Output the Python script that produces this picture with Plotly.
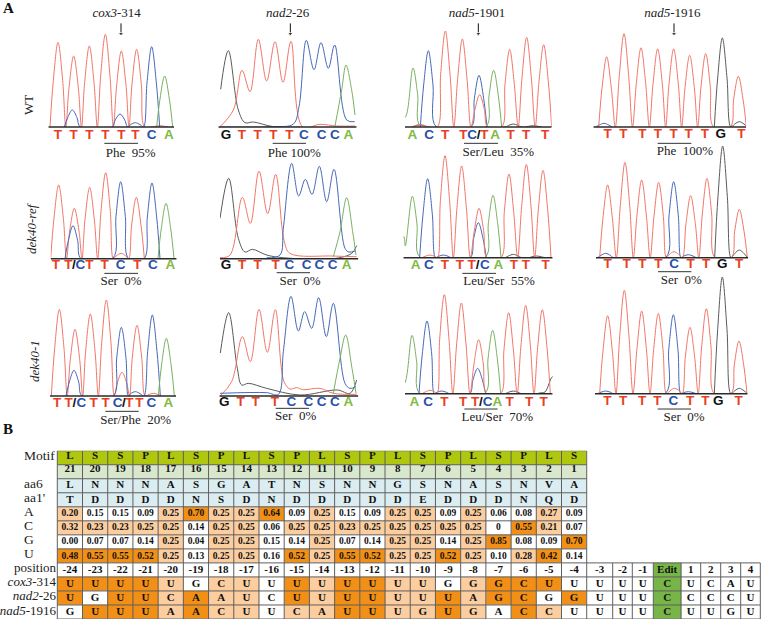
import plotly.graph_objects as go

# ---------- chromatogram signal, read per base call: (scan position, signal) ----------
COX3_WT_T = [(174, 254), (221, 213), (268, 243), (316, 278), (364, 228), (410, 233), (480, 4)]
COX3_WT_C = [(217, 51), (360, 39), (406, 13), (455, 241)]
COX3_WT_A = [(494, 153)]
COX3_REF_T = [(176, 221), (223, 151), (269, 214), (317, 258), (363, 16), (409, 184)]
COX3_REF_C = [(219, 99), (362, 231), (456, 227)]
COX3_REF_A = [(498, 166)]
COX3_MUT_T = [(178, 260), (225, 200), (271, 246), (319, 288), (366, 71), (411, 212), (460, 8)]
COX3_MUT_C = [(222, 77), (364, 206), (406, 13), (457, 243)]
COX3_MUT_A = [(499, 173)]

NAD2_WT_G = [(662, 113), (685, 229), (715, 51), (735, 13), (760, 15), (820, 1), (900, 0)]
NAD2_WT_T = [(660, 1), (700, 51), (726, 170), (750, 106), (775, 263), (800, 138), (825, 256), (849, 134), (873, 257), (908, 0), (960, 8), (1010, 3), (1065, 3)]
NAD2_WT_C = [(660, 0), (820, 1), (880, 9), (897, 61), (919, 260), (942, 172), (963, 253), (985, 176), (1004, 246), (1040, 21), (1064, 16)]
NAD2_WT_A = [(1005, 3), (1025, 111), (1038, 186), (1055, 111), (1065, 36)]
NAD2_REF_G = [(660, 121), (686, 241), (715, 61), (735, 20), (757, 28), (800, 11), (850, 3), (1000, 0), (1055, 16), (1070, 39)]
NAD2_REF_T = [(660, 3), (690, 11), (727, 184), (751, 106), (777, 263), (803, 135), (827, 253), (853, 51), (870, 16), (1000, 8), (1070, 6)]
NAD2_REF_C = [(800, 3), (840, 11), (850, 91), (875, 286), (896, 188), (916, 238), (936, 193), (958, 277), (980, 171), (1002, 268), (1035, 31), (1047, 20), (1065, 23)]
NAD2_REF_A = [(1000, 6), (1020, 81), (1040, 183), (1058, 81), (1068, 11)]
NAD2_MUT_G = [(661, 129), (686, 250), (712, 83), (725, 33), (745, 38), (800, 23), (900, 3), (1012, 18), (1050, 8), (1070, 48)]
NAD2_MUT_T = [(660, 0), (695, 43), (727, 178), (751, 103), (777, 260), (802, 131), (826, 259), (852, 43), (870, 21), (890, 25), (910, 19), (960, 23), (1000, 8), (1070, 5)]
NAD2_MUT_C = [(660, 8), (800, 10), (835, 5), (850, 133), (873, 299), (895, 195), (914, 253), (935, 203), (956, 295), (979, 178), (1000, 278), (1035, 38), (1050, 23), (1068, 28)]
NAD2_MUT_A = [(1000, 8), (1020, 113), (1037, 183), (1056, 83), (1068, 8)]

N1901_WT_T = [(120, 8), (196, 288), (247, 264), (299, 97), (389, 233), (440, 269), (491, 247)]
N1901_WT_C = [(145, 229), (297, 155)]
N1901_WT_A = [(78, 33), (99, 177), (341, 170)]
N1901_WT_G = [(120, 6), (400, 9), (460, 4)]
N1901_REF_T = [(150, 8), (195, 306), (245, 275), (297, 148), (387, 251), (439, 280), (489, 262)]
N1901_REF_C = [(143, 237), (190, 8), (295, 105)]
N1901_REF_A = [(72, 63), (76, 35), (97, 184), (339, 187)]
N1901_REF_G = [(400, 10), (470, 5)]
N1901_MUT_T = [(150, 10), (193, 297), (244, 272), (296, 162), (386, 243), (437, 265), (487, 252)]
N1901_MUT_C = [(141, 218), (185, 8), (293, 76)]
N1901_MUT_A = [(75, 33), (96, 175), (338, 190)]
N1901_MUT_G = [(400, 8), (495, 5), (518, 51)]

N1916_WT_T = [(680, 211), (732, 280), (783, 238), (833, 234), (881, 234), (929, 215), (977, 220), (1075, 152)]
N1916_WT_C = [(672, 11)]
N1916_WT_G = [(1027, 267), (1078, 16)]
N1916_REF_T = [(683, 218), (735, 286), (785, 233), (836, 226), (882, 18), (932, 186), (981, 238), (1078, 145)]
N1916_REF_C = [(677, 13), (881, 228), (925, 9)]
N1916_REF_G = [(1028, 335), (1078, 23)]
N1916_MUT_T = [(683, 234), (733, 310), (785, 248), (835, 241), (884, 16), (930, 199), (979, 255), (1077, 158)]
N1916_MUT_C = [(677, 8), (880, 237), (925, 6)]
N1916_MUT_G = [(1027, 350), (1078, 16)]

# ---------- base calls and captions ----------
COX3_WT_CALLS = "TTTTTTCA"
COX3_WT_CALL_X = [174, 221, 268, 316, 364, 406, 455, 507]
COX3_REF_CALLS = "TT/CTTCTCA"
COX3_REF_CALL_X = [168, 205, 222, 241, 268, 314, 362, 412, 459, 511]
COX3_MUT_CALLS = "TT/CTTC/TTCA"
COX3_MUT_CALL_X = [171, 206, 223, 244, 281, 317, 353, 372, 388, 418, 454, 505]
NAD2_WT_CALLS = "GTTTTCCCA"
NAD2_WT_CALL_X = [678, 726, 773, 820, 868, 912, 965, 1005, 1045]
NAD2_REF_CALLS = "GTTTCCCCA"
NAD2_REF_CALL_X = [678, 726, 773, 827, 868, 920, 958, 998, 1040]
NAD2_MUT_CALLS = "GTTTCCCCA"
NAD2_MUT_CALL_X = [673, 722, 767, 825, 874, 925, 965, 1005, 1045]
N1901_WT_CALLS = "ACTTC/TATTT"
N1901_WT_CALL_X = [97, 147, 195, 250, 276, 296, 313, 345, 392, 438, 495]
N1901_REF_CALLS = "ACTTT/CATTT"
N1901_REF_CALL_X = [107, 147, 195, 240, 275, 293, 315, 355, 402, 438, 497]
N1901_MUT_CALLS = "ACTTT/CATTT"
N1901_MUT_CALL_X = [103, 144, 193, 249, 285, 303, 323, 352, 389, 447, 491]
N1916_WT_CALLS = "TTTTTTTGT"
N1916_WT_CALL_X = [683, 730, 787, 834, 881, 926, 975, 1022, 1084]
N1916_REF_CALLS = "TTTTCTTGT"
N1916_REF_CALL_X = [683, 740, 787, 835, 882, 932, 978, 1027, 1077]
N1916_MUT_CALLS = "TTTTCTTGT"
N1916_MUT_CALL_X = [682, 729, 786, 832, 880, 930, 976, 1015, 1076]

GENE_TITLES = ["<i>cox3</i>-314", "<i>nad2</i>-26", "<i>nad5</i>-1901", "<i>nad5</i>-1916"]
GENOTYPES = ["WT", "<i>dek40-ref</i>", "<i>dek40-1</i>"]
CAPTIONS = [
    ["Phe  95%", "Phe 100%", "Ser/Leu  35%", "Phe  100%"],
    ["Ser  0%", "Ser  0%", "Leu/Ser  55%", "Ser  0%"],
    ["Ser/Phe  20%", "Ser  0%", "Leu/Ser  70%", "Ser  0%"],
]

# ---------- PPR table ----------
MOTIF = list("LSSPLSPLSPLSPLSPLSPLS")
MOTIF_NUM = [str(n) for n in range(21, 0, -1)]
AA6 = list("LNNNASGATNSNNGSNASNVA")
AA1 = list("TDDDDNSDNDDDDDEDDDNQD")
PWM_A = "0.20 0.15 0.15 0.09 0.25 0.70 0.25 0.25 0.64 0.09 0.25 0.15 0.09 0.25 0.25 0.09 0.25 0.06 0.08 0.27 0.09".split()
PWM_C = "0.32 0.23 0.23 0.25 0.25 0.14 0.25 0.25 0.06 0.25 0.25 0.23 0.25 0.25 0.25 0.25 0.25 0 0.55 0.21 0.07".split()
PWM_G = "0.00 0.07 0.07 0.14 0.25 0.04 0.25 0.25 0.15 0.14 0.25 0.07 0.14 0.25 0.25 0.14 0.25 0.85 0.08 0.09 0.70".split()
PWM_U = "0.48 0.55 0.55 0.52 0.25 0.13 0.25 0.25 0.16 0.52 0.25 0.55 0.52 0.25 0.25 0.52 0.25 0.10 0.28 0.42 0.14".split()
POSITIONS = [str(n) for n in range(-24, 0)] + ["Edit", "1", "2", "3", "4"]
SEQ_COX3 = list("UUUUUGCUUUUUUUUGGGCUUUUUCUCAU")
SEQ_NAD2 = list("UGUUCAAUCUUUUUUUAGCGGUUUCCCCU")
SEQ_NAD5 = list("GUUUAACUUCAUUUGUGACCUUUUCUUGU")
ROW_NAMES = ["Motif", "", "aa6", "aa1'", "A", "C", "G", "U", "position",
             "<i>cox3</i>-314", "<i>nad2</i>-26", "<i>nad5</i>-1916"]

# ---------- styles and layout ----------
W, H = 764, 621
SERIF = "Liberation Serif"
SANS = "Liberation Sans"
CURVE = {"T": "#f0766a", "C": "#4668b8", "A": "#78b060", "G": "#5a5a5a"}
CALL = {"T": "#e8401f", "C": "#2a50a8", "A": "#80bb3f", "G": "#111111", "/": "#111111"}
PEAK_HALF = 24
SHOULDER = 14

PANELS = [
    dict(r=0, c=0, ox=0, base=127, x0=145, x1=522, calls=(COX3_WT_CALLS, COX3_WT_CALL_X), cy=27, ul=(313, 414), uly=49, cap=392, capy=80, arrow=363, tx=350,
         ch=[("T", COX3_WT_T, 1), ("C", COX3_WT_C, 1), ("A", COX3_WT_A, 1)]),
    dict(r=0, c=1, ox=0, base=127, x0=655, x1=1070, calls=(NAD2_WT_CALLS, NAD2_WT_CALL_X), cy=27, ul=(818, 918), uly=49, cap=883, capy=81, arrow=871, tx=863,
         ch=[("G", NAD2_WT_G, 0), ("T", NAD2_WT_T, 0), ("C", NAD2_WT_C, 0), ("A", NAD2_WT_A, 0)]),
    dict(r=0, c=2, ox=380, base=127, x0=75, x1=515, calls=(N1901_WT_CALLS, N1901_WT_CALL_X), cy=27, ul=(252, 354), uly=49, cap=355, capy=77, arrow=295, tx=291,
         ch=[("G", N1901_WT_G, 1), ("A", N1901_WT_A, 1), ("C", N1901_WT_C, 1), ("T", N1901_WT_T, 1)]),
    dict(r=0, c=3, ox=380, base=127, x0=640, x1=1098, calls=(N1916_WT_CALLS, N1916_WT_CALL_X), cy=23, ul=(833, 934), uly=49, cap=915, capy=75, arrow=882, tx=877,
         ch=[("C", N1916_WT_C, 1), ("G", N1916_WT_G, 1), ("T", N1916_WT_T, 1)]),
    dict(r=1, c=0, ox=0, base=258.7, x0=152, x1=530, calls=(COX3_REF_CALLS, COX3_REF_CALL_X), cy=22, ul=(313, 414), uly=44, cap=363, capy=70,
         ch=[("T", COX3_REF_T, 1), ("C", COX3_REF_C, 1), ("A", COX3_REF_A, 1)]),
    dict(r=1, c=1, ox=0, base=258.7, x0=660, x1=1075, calls=(NAD2_REF_CALLS, NAD2_REF_CALL_X), cy=22, ul=(830, 930), uly=42, cap=900, capy=70,
         ch=[("G", NAD2_REF_G, 0), ("T", NAD2_REF_T, 0), ("C", NAD2_REF_C, 0), ("A", NAD2_REF_A, 0)]),
    dict(r=1, c=2, ox=380, base=257.7, x0=70, x1=518, calls=(N1901_REF_CALLS, N1901_REF_CALL_X), cy=25, ul=(247, 348), uly=47, cap=357, capy=72,
         ch=[("G", N1901_REF_G, 1), ("A", N1901_REF_A, 1), ("C", N1901_REF_C, 1), ("T", N1901_REF_T, 1)]),
    dict(r=1, c=3, ox=380, base=257.7, x0=648, x1=1105, calls=(N1916_REF_CALLS, N1916_REF_CALL_X), cy=20, ul=(834, 934), uly=42, cap=904, capy=69,
         ch=[("C", N1916_REF_C, 1), ("G", N1916_REF_G, 1), ("T", N1916_REF_T, 1)]),
    dict(r=2, c=0, ox=0, base=396, x0=150, x1=528, calls=(COX3_MUT_CALLS, COX3_MUT_CALL_X), cy=24, ul=(316, 416), uly=46, cap=407, capy=73,
         ch=[("T", COX3_MUT_T, 1), ("C", COX3_MUT_C, 1), ("A", COX3_MUT_A, 1)]),
    dict(r=2, c=1, ox=0, base=396, x0=658, x1=1075, calls=(NAD2_MUT_CALLS, NAD2_MUT_CALL_X), cy=20, ul=(827, 927), uly=37, cap=887, capy=63,
         ch=[("G", NAD2_MUT_G, 0), ("T", NAD2_MUT_T, 0), ("C", NAD2_MUT_C, 0), ("A", NAD2_MUT_A, 0)]),
    dict(r=2, c=2, ox=380, base=393.7, x0=75, x1=518, calls=(N1901_MUT_CALLS, N1901_MUT_CALL_X), cy=26, ul=(253, 353), uly=46, cap=352, capy=72,
         ch=[("G", N1901_MUT_G, 1), ("A", N1901_MUT_A, 1), ("C", N1901_MUT_C, 1), ("T", N1901_MUT_T, 1)]),
    dict(r=2, c=3, ox=380, base=393.7, x0=645, x1=1103, calls=(N1916_MUT_CALLS, N1916_MUT_CALL_X), cy=23, ul=(833, 933), uly=46, cap=912, capy=71,
         ch=[("C", N1916_MUT_C, 1), ("G", N1916_MUT_G, 1), ("T", N1916_MUT_T, 1)]),
]


def with_valleys(peaks):
    """Put shoulders and the return to baseline round the read peaks of one dye channel."""
    xs, ys = [], []
    for i, (x, y) in enumerate(peaks):
        prev_gap = x - peaks[i - 1][0] if i else 999
        next_gap = peaks[i + 1][0] - x if i + 1 < len(peaks) else 999
        if prev_gap >= 30:
            if i == 0:
                xs.append(x - PEAK_HALF); ys.append(0)
            xs.append(x - SHOULDER); ys.append(y * 0.55)
        xs.append(x); ys.append(y)
        if next_gap < 30:
            continue
        xs.append(x + SHOULDER); ys.append(y * 0.55)
        if i + 1 == len(peaks):
            xs.append(x + PEAK_HALF); ys.append(0)
        elif next_gap <= 2 * PEAK_HALF + 8:
            xs.append(x + next_gap / 2); ys.append(0)
        else:
            xs += [x + PEAK_HALF, x + next_gap - PEAK_HALF]; ys += [0, 0]
    return xs, ys


fig = go.Figure()
layout_axes = {}
Y_TOP = 360
Y_LOW = -100   # label axis reaches below the baseline for calls and captions
NP = len(PANELS)

for n, p in enumerate(PANELS, start=1):
    sx = "" if n == 1 else str(n)
    lab = str(n + NP + 1)
    layout_axes[f"xaxis{sx}"] = dict(domain=[(p["ox"] + p["x0"] / 3) / W, (p["ox"] + p["x1"] / 3) / W],
                                     range=[p["x0"], p["x1"]], visible=False, fixedrange=True, anchor=f"y{sx}")
    layout_axes[f"yaxis{sx}"] = dict(domain=[(H - p["base"]) / H, (H - p["base"] + Y_TOP / 3) / H],
                                     range=[0, Y_TOP], visible=False, fixedrange=True, anchor=f"x{sx}")
    layout_axes[f"yaxis{lab}"] = dict(domain=[(H - p["base"] + Y_LOW / 3) / H, (H - p["base"] + Y_TOP / 3) / H],
                                      range=[Y_LOW, Y_TOP], visible=False, fixedrange=True, anchor=f"x{sx}")
    ax = dict(xaxis=f"x{sx}", yaxis=f"y{sx}")
    lax = dict(xaxis=f"x{sx}", yaxis=f"y{lab}")
    # dye channels
    for dye, pts, is_peaks in p["ch"]:
        xs, ys = with_valleys(pts) if is_peaks else ([a for a, _ in pts], [b for _, b in pts])
        fig.add_trace(go.Scatter(x=xs, y=ys, mode="lines", line=dict(color=CURVE[dye], width=1, shape="spline", smoothing=1.0),
                                 hoverinfo="skip", **ax))
    # baseline
    fig.add_trace(go.Scatter(x=[p["x0"], p["x1"]], y=[0, 0], mode="lines", line=dict(color="#2a2a2a", width=1.6),
                             cliponaxis=False, hoverinfo="skip", **lax))
    # base calls
    letters, call_x = p["calls"]
    fig.add_trace(go.Scatter(x=call_x, y=[-p["cy"]] * len(call_x), mode="text", text=list(letters),
                             textfont=dict(family=SANS, size=13.5, color=[CALL[c] for c in letters], weight="bold"),
                             textposition="middle center", cliponaxis=False, hoverinfo="skip", **lax))
    # underline and caption
    fig.add_trace(go.Scatter(x=list(p["ul"]), y=[-p["uly"]] * 2, mode="lines", line=dict(color="#333333", width=1),
                             cliponaxis=False, hoverinfo="skip", **lax))
    fig.add_trace(go.Scatter(x=[p["cap"]], y=[-p["capy"]], mode="text", text=[CAPTIONS[p["r"]][p["c"]]],
                             textfont=dict(family=SERIF, size=13, color="#222222"),
                             textposition="middle center", cliponaxis=False, hoverinfo="skip", **lax))
    # gene title and arrow on the top row
    if p["r"] == 0:
        fig.add_trace(go.Scatter(x=[p["tx"]], y=[341], mode="text", text=[GENE_TITLES[p["c"]]],
                                 textfont=dict(family=SERIF, size=13, color="#222222"),
                                 textposition="middle center", cliponaxis=False, hoverinfo="skip", **lax))
        fig.add_trace(go.Scatter(x=[p["arrow"], p["arrow"]], y=[311, 280], mode="lines+markers",
                                 line=dict(color="#111111", width=1),
                                 marker=dict(symbol=["line-ew", "triangle-down"], size=[0.1, 5], color="#111111"),
                                 cliponaxis=False, hoverinfo="skip", **lax))

# ---------- table ----------
t = NP + 1
TABLE_TOP, TABLE_BOTTOM = 450.7, 619
layout_axes[f"xaxis{t}"] = dict(domain=[0, 1], range=[0, W], visible=False, fixedrange=True, anchor=f"y{t}")
layout_axes[f"yaxis{t}"] = dict(domain=[(H - TABLE_BOTTOM) / H, (H - TABLE_TOP) / H], range=[12, 0],
                                visible=False, fixedrange=True, anchor=f"x{t}")
tax = dict(xaxis=f"x{t}", yaxis=f"y{t}")

col_edges = [57.3 + 25.21 * i for i in range(22)] + [612.7, 632.3, 653.3, 681, 700.7, 720.7, 740.7, 760.3]
col_mid = [(a + b) / 2 for a, b in zip(col_edges, col_edges[1:])]
NCOL = len(POSITIONS)
NTOP = len(MOTIF)
PWM = {"A": PWM_A, "C": PWM_C, "G": PWM_G, "U": PWM_U}


def strength(v):
    v = float(v)
    return 2 if v >= 0.4 else (1 if v >= 0.2 else 0)


def top_row(code):
    return [code] * NTOP + [None] * (NCOL - NTOP)


def seq_row(seq):
    out = [strength(PWM[b][i]) if i < NTOP else 0 for i, b in enumerate(seq)]
    out[POSITIONS.index("Edit")] = 6
    return out


pos_row = [0] * NCOL
pos_row[POSITIONS.index("Edit")] = 6
z = [top_row(3), top_row(4), top_row(5), top_row(5)]
for name in "ACGU":
    z.append([strength(v) for v in PWM[name]] + [None] * (NCOL - NTOP))
z += [pos_row, seq_row(SEQ_COX3), seq_row(SEQ_NAD2), seq_row(SEQ_NAD5)]

PALETTE = ["#ffffff", "#fbcd9f", "#f28f16", "#afc70e", "#d9e8cd", "#dcedf2", "#78b548"]
steps = []
for i, col in enumerate(PALETTE):
    steps += [[i / 7, col], [(i + 1) / 7, col]]
fig.add_trace(go.Heatmap(z=z, x=col_edges, y=list(range(13)), zmin=0, zmax=7, colorscale=steps, showscale=False,
                         hoverinfo="skip", **tax))

# grid
gx, gy = [], []
for row in range(13):
    gx += [col_edges[0], col_edges[NCOL if row >= 8 else NTOP], None]
    gy += [row, row, None]
for i, e in enumerate(col_edges):
    gx += [e, e, None]
    gy += [8 if i > NTOP else 0, 12, None]
fig.add_trace(go.Scatter(x=gx, y=gy, mode="lines", line=dict(color="#5f5f5f", width=1), cliponaxis=False,
                         hoverinfo="skip", **tax))

# cell text
ROWS_TEXT = [MOTIF, MOTIF_NUM, AA6, AA1, PWM_A, PWM_C, PWM_G, PWM_U, POSITIONS, SEQ_COX3, SEQ_NAD2, SEQ_NAD5]
ROW_SHIFT = [0.38, 0.33, 0.5, 0.5, 0.5, 0.5, 0.5, 0.55, 0.5, 0.5, 0.5, 0.5]
ROW_SIZE = [11, 11, 11, 11, 9.5, 9.5, 9.5, 9.5, 11, 11, 11, 11]
for row, vals in enumerate(ROWS_TEXT):
    fig.add_trace(go.Scatter(x=col_mid[:len(vals)], y=[row + ROW_SHIFT[row]] * len(vals), mode="text", text=vals,
                             textfont=dict(family=SERIF, size=ROW_SIZE[row], color="#111111", weight="bold"),
                             textposition="middle center", cliponaxis=False, hoverinfo="skip", **tax))

# row labels
left_rows = [0, 2, 3, 4, 5, 6, 7]
fig.add_trace(go.Scatter(x=[24] * len(left_rows), y=[r + 0.42 for r in left_rows], mode="text",
                         text=[ROW_NAMES[r] for r in left_rows],
                         textfont=dict(family=SERIF, size=13.5, color="#222222"),
                         textposition="middle right", cliponaxis=False, hoverinfo="skip", **tax))
right_rows = [8, 9, 10, 11]
fig.add_trace(go.Scatter(x=[56] * len(right_rows), y=[r + 0.45 for r in right_rows], mode="text",
                         text=[ROW_NAMES[r] for r in right_rows],
                         textfont=dict(family=SERIF, size=13, color="#222222"),
                         textposition="middle left", cliponaxis=False, hoverinfo="skip", **tax))

annotations = [
    dict(x=8 / W, y=1 - 8 / H, text="<b>A</b>", font=dict(family=SERIF, size=15, color="#111111")),
    dict(x=8 / W, y=1 - 429 / H, text="<b>B</b>", font=dict(family=SERIF, size=15, color="#111111")),
    dict(x=29 / W, y=1 - 105 / H, text=GENOTYPES[0], textangle=-90, font=dict(family=SERIF, size=13, color="#222222")),
    dict(x=31 / W, y=1 - 228 / H, text=GENOTYPES[1], textangle=-90, font=dict(family=SERIF, size=13, color="#222222")),
    dict(x=34 / W, y=1 - 361 / H, text=GENOTYPES[2], textangle=-90, font=dict(family=SERIF, size=13, color="#222222")),
]
for a in annotations:
    a.update(xref="paper", yref="paper", showarrow=False, xanchor="center", yanchor="middle")

fig.update_layout(width=W, height=H, margin=dict(l=0, r=0, t=0, b=0), paper_bgcolor="white", plot_bgcolor="rgba(0,0,0,0)",
                  showlegend=False, annotations=annotations, **layout_axes)

fig.write_html("out.html", config=dict(displayModeBar=False),
               post_script="document.body.style.margin='0';document.documentElement.style.overflow='hidden';")
